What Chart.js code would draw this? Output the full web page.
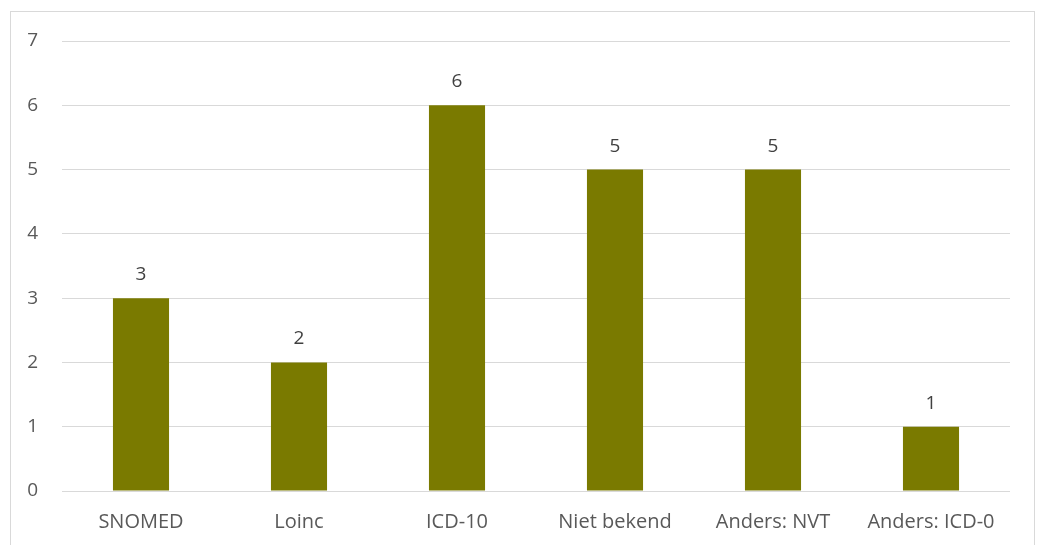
<!DOCTYPE html>
<html>
<head>
<meta charset="utf-8">
<script src="https://cdn.jsdelivr.net/npm/chart.js@4.4.1/dist/chart.umd.min.js"></script>
<style>
    body { margin: 0; background: #fff; }
    .frame {
        position: absolute; left: 10px; top: 11px; width: 1025px; height: 560px;
        border: 1px solid #D9D9D9; box-sizing: border-box;
    }
    .container-chart { position: absolute; left: 0; top: 0; width: 1040px; height: 545px; }
</style>
</head>
<body>
<div class="frame"></div>
<div class="container-chart">
    <canvas id="myChart" width="1040" height="545"></canvas>
</div>
<script>
const categories = ['SNOMED', 'Loinc', 'ICD-10', 'Niet bekend', 'Anders: NVT', 'Anders: ICD-0'];
const counts = [3, 2, 6, 5, 5, 1];
const yTicks = [0, 1, 2, 3, 4, 5, 6, 7];

const barColor = '#7A7A00';
const textColor = '#595959';
const fontFamily = "'Open Sans', sans-serif";

// write the value above each bar
const valueLabels = {
    id: 'valueLabels',
    afterDatasetsDraw(chart) {
        const ctx = chart.ctx;
        const meta = chart.getDatasetMeta(0);
        ctx.save();
        ctx.fillStyle = '#404040';
        ctx.font = '19px ' + fontFamily;
        ctx.textAlign = 'center';
        ctx.textBaseline = 'alphabetic';
        meta.data.forEach(function (bar, i) {
            ctx.fillText(String(counts[i]), bar.x, bar.y - 18);
        });
        ctx.restore();
    }
};

const ctx = document.getElementById('myChart');
const myChart = new Chart(ctx, {
    type: 'bar',
    data: {
        labels: categories,
        datasets: [{
            data: counts,
            backgroundColor: barColor,
            borderWidth: 0,
            categoryPercentage: 1,
            barPercentage: 0.355
        }]
    },
    options: {
        responsive: false,
        animation: false,
        layout: { padding: { left: 10, right: 30, top: 41, bottom: 0 } },
        plugins: {
            legend: { display: false },
            tooltip: { enabled: false }
        },
        scales: {
            x: {
                grid: { display: false, drawTicks: false },
                border: { display: false },
                ticks: {
                    color: textColor,
                    padding: 19,
                    font: { family: fontFamily, size: 20 }
                },
                afterFit(scale) { scale.height = 54; }
            },
            y: {
                min: 0,
                max: 7,
                afterBuildTicks(scale) { scale.ticks = yTicks.map(v => ({ value: v })); },
                grid: { color: '#D9D9D9', lineWidth: 1, drawTicks: false },
                border: { display: false },
                ticks: {
                    color: textColor,
                    padding: 24,
                    font: { family: fontFamily, size: 19 }
                },
                afterFit(scale) { scale.width = 52; }
            }
        }
    },
    plugins: [valueLabels]
});
</script>
</body>
</html>
